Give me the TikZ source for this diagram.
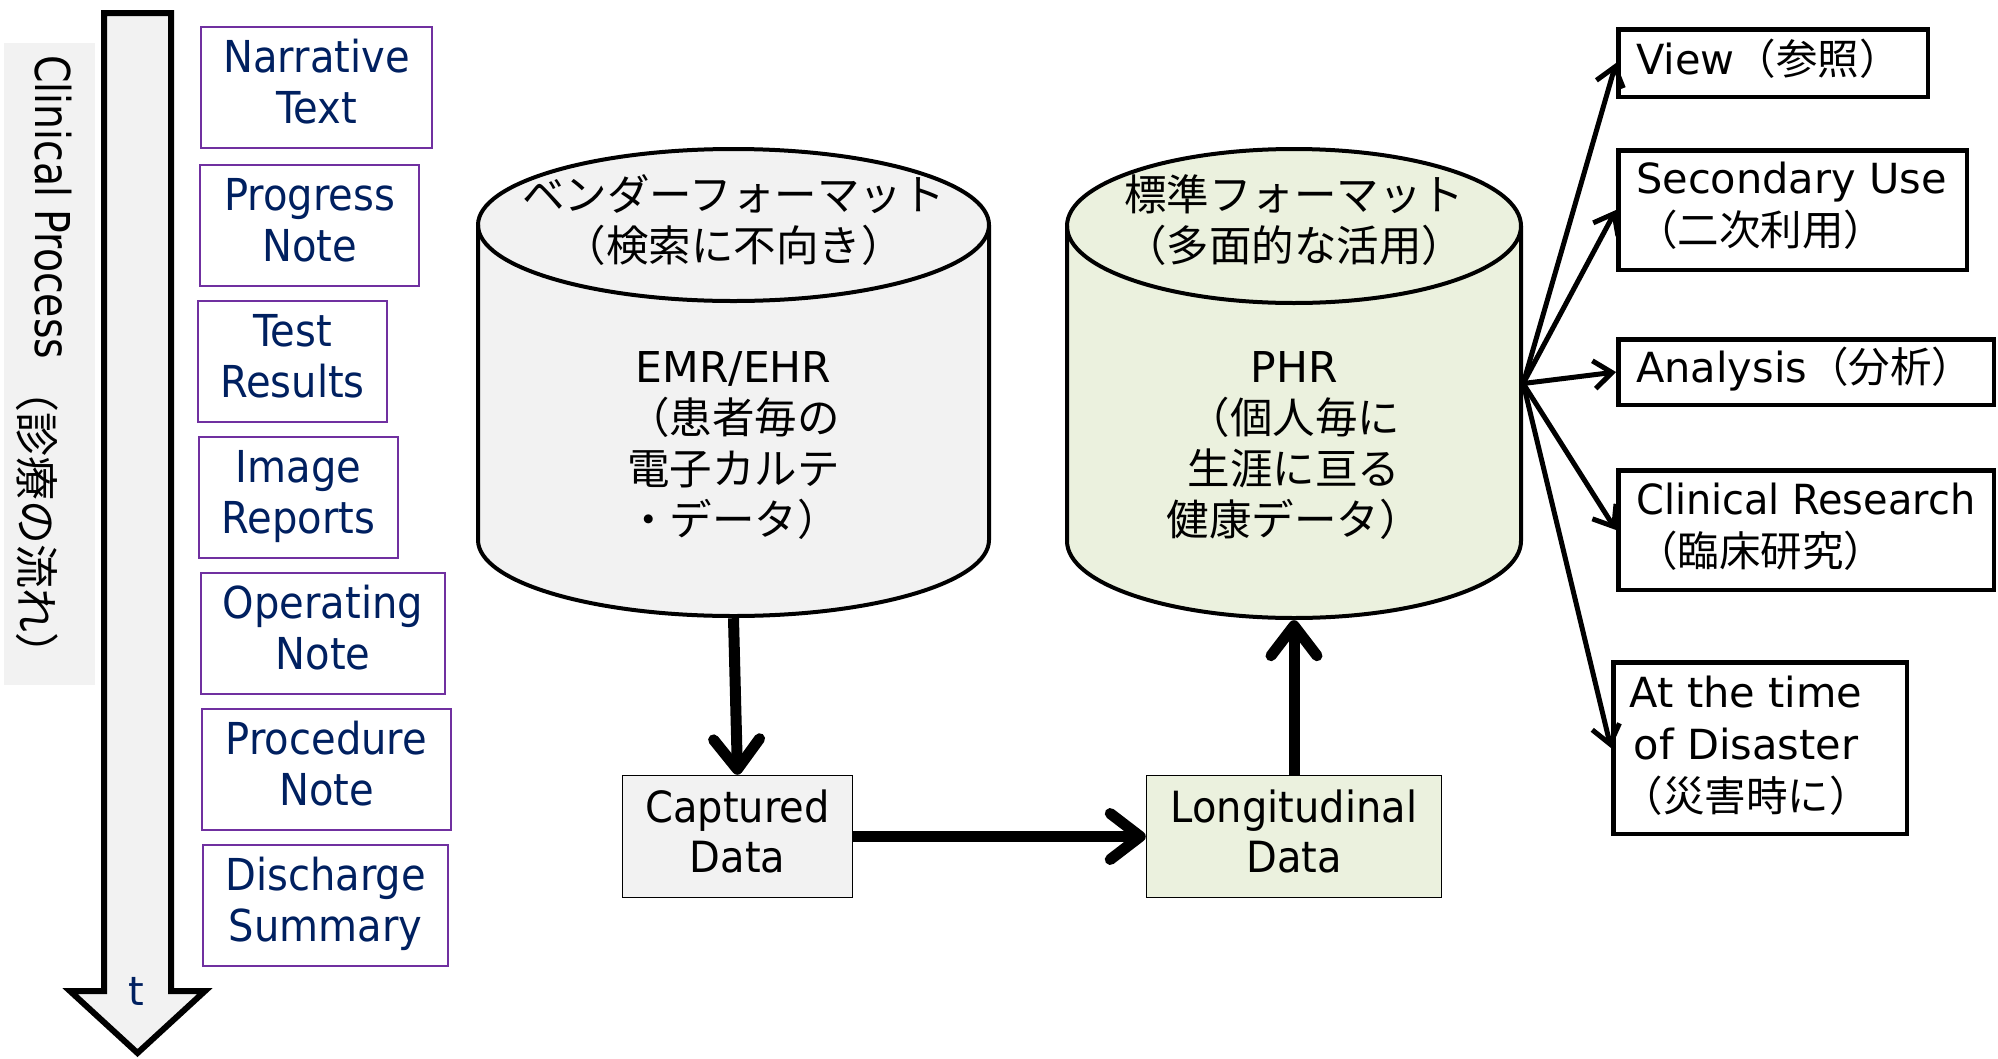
\documentclass[tikz,border=0pt]{standalone}
\usepackage{fontspec}
\setmainfont{DejaVu Sans}
\newfontfamily\jp{Noto Sans CJK JP}
\newfontfamily\nar{DejaVu Sans}[FakeStretch=0.91]
\newfontfamily\cond{DejaVu Sans}[FakeStretch=0.93]
\newfontfamily\rnar{DejaVu Sans}[FakeStretch=0.96]
\newfontfamily\vnar{DejaVu Sans}[FakeStretch=0.82]
\usetikzlibrary{arrows.meta}
\definecolor{navy}{HTML}{002060}
\definecolor{purp}{HTML}{7030A0}
\definecolor{lgray}{HTML}{F2F2F2}
\definecolor{lgreen}{HTML}{EBF1DE}
\tikzset{
  purplebox/.style={draw=purp, line width=2pt, inner sep=0pt},
  navytext/.style={text=navy, align=center, inner sep=0pt, anchor=base, font=\nar\fontsize{44}{51.5}\selectfont},
  cylline/.style={line width=4pt, draw=black},
  cyltext/.style={align=center, inner sep=0pt, anchor=base, font=\fontsize{42.5}{51}\selectfont},
  databox/.style={draw=black, line width=1.5pt, inner sep=0pt},
  datatext/.style={align=center, inner sep=0pt, anchor=base, font=\cond\fontsize{43}{50}\selectfont},
  usebox/.style={draw=black, line width=4.5pt, inner sep=0pt},
  usetext/.style={align=left, inner sep=0pt, anchor=base west, font=\fontsize{41.5}{52}\selectfont},
  bigarrow/.style={line width=11pt, -{Straight Barb[length=30pt,width=46pt,round]}},
  usearrow/.style={line width=5pt, -{Straight Barb[length=18pt,width=28pt]}},
}
\begin{document}
\begin{tikzpicture}[x=1pt,y=-1pt]
\useasboundingbox[fill=white] (0,0) rectangle (1998,1058);

% left band with rotated label
\node[fill=lgray, minimum width=91pt, minimum height=642pt, inner sep=0pt] (band) at (49.5,364) {};
\node[rotate=-90, anchor=base west, inner sep=0pt, font=\vnar\fontsize{48}{56}\selectfont] (cp) at (35,55)
  {Clinical Process\hspace{10pt}\raisebox{-15pt}{\jp\fontsize{44}{52}\selectfont （診療の流れ）}};

% time arrow
\filldraw[line width=6pt, fill=lgray, draw=black, miter limit=10]
  (104,13) -- (171,13) -- (171,991) -- (205,991) -- (137.5,1053) -- (70,991) -- (104,991) -- cycle;
\node[text=navy, font=\fontsize{40}{48}\selectfont, anchor=base, inner sep=0pt] (tlabel) at (136,1005) {t};

% purple boxes (text anchor = baseline of the last line)
\node[purplebox, minimum width=231pt, minimum height=121pt] (narr) at (316.5,87.5) {};
\node[navytext] (narrt) at (316.5,123.5) {Narrative\\Text};
\node[purplebox, minimum width=219pt, minimum height=121pt] (prog) at (309.5,225.5) {};
\node[navytext] (progt) at (309.5,261.5) {Progress\\Note};
\node[purplebox, minimum width=189pt, minimum height=121pt] (test) at (292.5,361.5) {};
\node[navytext] (testt) at (292.5,397.5) {Test\\Results};
\node[purplebox, minimum width=199pt, minimum height=121pt] (imag) at (298.5,497) {};
\node[navytext] (imagt) at (298.5,533.5) {Image\\Reports};
\node[purplebox, minimum width=244pt, minimum height=121pt] (oper) at (323,633.5) {};
\node[navytext] (opert) at (323,669.5) {Operating\\Note};
\node[purplebox, minimum width=249pt, minimum height=121pt] (proc) at (326.5,769.5) {};
\node[navytext] (proct) at (326.5,805.5) {Procedure\\Note};
\node[purplebox, minimum width=245pt, minimum height=121pt] (disc) at (325.5,905.5) {};
\node[navytext] (disct) at (325.5,941.5) {Discharge\\Summary};

% EMR cylinder
\node[inner sep=0pt, minimum width=515pt, minimum height=471pt] (emr) at (733.5,382.5) {};
\path[cylline, fill=lgray] (478,225) -- (478,540)
  arc[start angle=180, end angle=360, x radius=255.5pt, y radius=76pt] -- (989,225)
  arc[start angle=0, end angle=180, x radius=255.5pt, y radius=76pt] -- cycle;
\draw[cylline] (478,225) arc[start angle=180, end angle=360, x radius=255.5pt, y radius=76pt];
\node[cyltext] (emrtop) at (733.5,261) {{\jp ベンダーフォーマット}\\{\jp （検索に不向き）}};
\node[cyltext] (emrbody) at (733.5,535) {EMR/EHR\\{\jp （患者毎の}\\{\jp 電子カルテ}\\{\jp ・データ）}};

% PHR cylinder
\node[inner sep=0pt, minimum width=458pt, minimum height=473pt] (phr) at (1294,383.5) {};
\path[cylline, fill=lgreen] (1067,226) -- (1067,541)
  arc[start angle=180, end angle=360, x radius=227pt, y radius=77pt] -- (1521,226)
  arc[start angle=0, end angle=180, x radius=227pt, y radius=77pt] -- cycle;
\draw[cylline] (1067,226) arc[start angle=180, end angle=360, x radius=227pt, y radius=77pt];
\node[cyltext] (phrtop) at (1294,261) {{\jp 標準フォーマット}\\{\jp （多面的な活用）}};
\node[cyltext] (phrbody) at (1294,535) {PHR\\{\jp （個人毎に}\\{\jp 生涯に亘る}\\{\jp 健康データ）}};

% data boxes
\node[databox, fill=lgray, minimum width=230pt, minimum height=122pt] (cap) at (737.5,836.5) {};
\node[datatext] (capt) at (737.5,872) {Captured\\Data};
\node[databox, fill=lgreen, minimum width=295pt, minimum height=122pt] (lon) at (1294,836.5) {};
\node[datatext] (lont) at (1294,872) {Longitudinal\\Data};

% use boxes
\node[usebox, minimum width=309.5pt, minimum height=67.5pt] (view) at (1773,63) {};
\node[usetext] (viewt) at (1636,74) {View{\jp （参照）}};
\node[usebox, minimum width=348.5pt, minimum height=119.5pt] (sec) at (1792.5,210) {};
\node[usetext] (sect) at (1636,245) {Secondary Use\\{\jp （二次利用）}};
\node[usebox, minimum width=375.5pt, minimum height=65.5pt] (ana) at (1806,372) {};
\node[usetext] (anat) at (1636,382) {Analysis{\jp （分析）}};
\node[usebox, minimum width=375.5pt, minimum height=119.5pt] (clin) at (1806,530) {};
\node[usetext] (clint) at (1636,566) {{\rnar Clinical Research}\\{\jp （臨床研究）}};
\node[usebox, minimum width=293.5pt, minimum height=171.5pt] (dis) at (1760,748) {};
\node[usetext, align=center, anchor=base] (dist) at (1746,811) {At the time\\of Disaster\\{\jp （災害時に）}};

% connectors
\draw[bigarrow] (emr.south) -- (cap.north);
\draw[bigarrow] (cap.east) -- (lon.west);
\draw[bigarrow] (lon.north) -- (phr.south);
\foreach \b in {view,sec,ana,clin,dis}
  \draw[usearrow] (phr.east) -- (\b.west);
\end{tikzpicture}
\end{document}
